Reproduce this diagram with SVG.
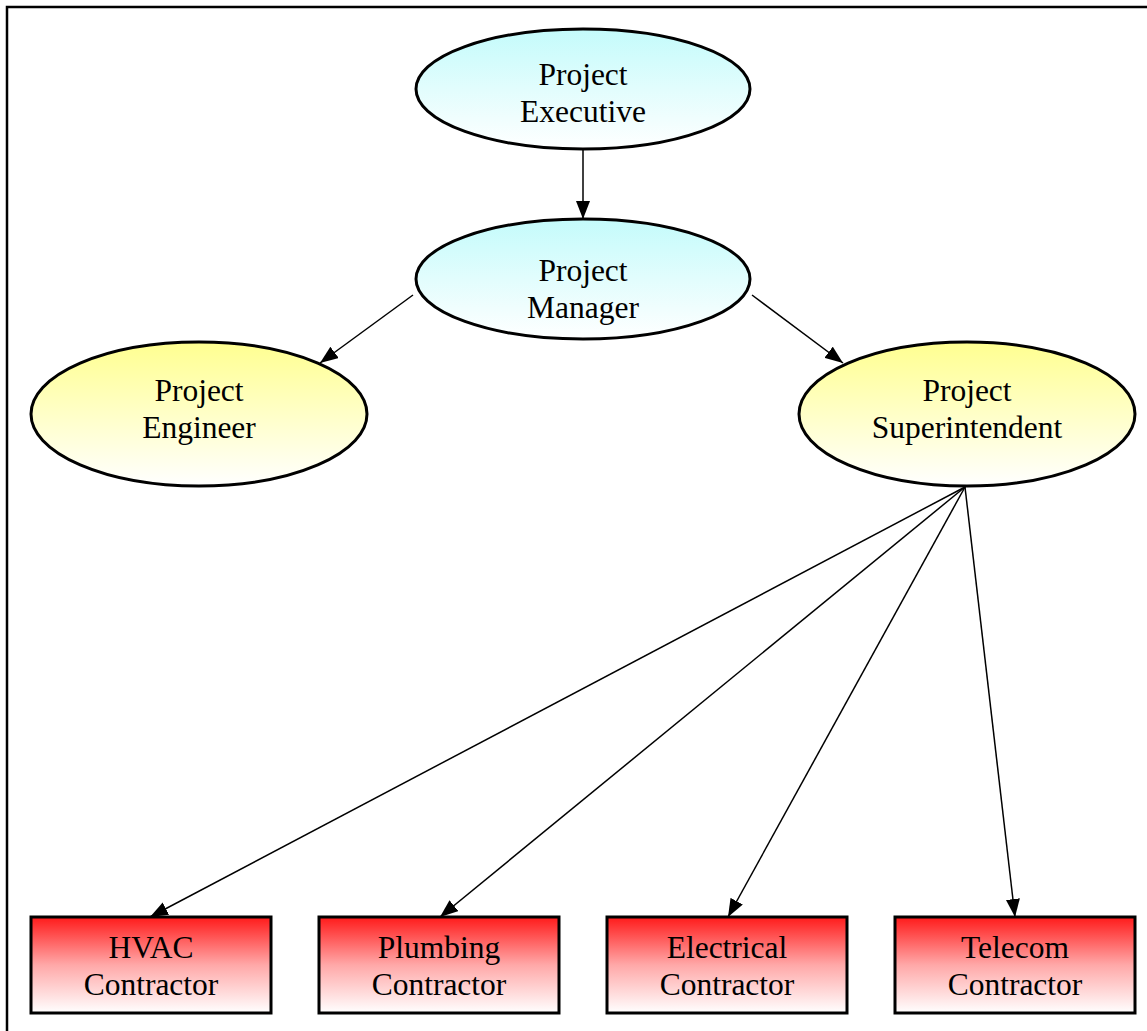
<svg xmlns="http://www.w3.org/2000/svg" width="1147" height="1031" viewBox="0 0 1147 1031">
<defs>
<linearGradient id="gC" x1="0" y1="0" x2="0" y2="1"><stop offset="0" stop-color="#c4fbfb"/><stop offset="1" stop-color="#ffffff"/></linearGradient>
<linearGradient id="gY" x1="0" y1="0" x2="0" y2="1"><stop offset="0" stop-color="#ffff90"/><stop offset="1" stop-color="#ffffff"/></linearGradient>
<linearGradient id="gR" x1="0" y1="0" x2="0" y2="1"><stop offset="0" stop-color="#ff1a1a"/><stop offset="0.5" stop-color="#ffa8a8"/><stop offset="1" stop-color="#ffffff"/></linearGradient>
<marker id="ah" viewBox="0 0 18 14" refX="18" refY="7" markerWidth="18" markerHeight="14" markerUnits="userSpaceOnUse" orient="auto"><path d="M0,0 L18,7 L0,14 Z" fill="#000"/></marker>
</defs>
<style>
.n{stroke:#000;stroke-width:3}
.t{font-family:"Liberation Serif","Times New Roman",serif;font-size:31.5px;fill:#000;text-anchor:middle}
.c line{stroke:#000;stroke-width:1.5;marker-end:url(#ah)}
</style>
<rect width="1147" height="1031" fill="#fff"/>
<path d="M7,1031 V7 H1147" fill="none" stroke="#000" stroke-width="2.5"/>
<g class="c">
<line x1="583" y1="150" x2="583" y2="219"/>
<line x1="413" y1="295" x2="320" y2="363"/>
<line x1="752" y1="295" x2="843" y2="363"/>
<line x1="965" y1="487" x2="150" y2="917"/>
<line x1="965" y1="487" x2="440" y2="917"/>
<line x1="965" y1="487" x2="728" y2="917"/>
<line x1="965" y1="487" x2="1015" y2="917"/>
</g>
<g id="exec"><ellipse class="n" cx="583" cy="89" rx="167" ry="60" fill="url(#gC)"/><text class="t" x="583" y="85">Project</text><text class="t" x="583" y="122">Executive</text></g>
<g id="manager"><ellipse class="n" cx="583" cy="279" rx="167" ry="60" fill="url(#gC)"/><text class="t" x="583" y="281">Project</text><text class="t" x="583" y="318">Manager</text></g>
<g id="engineer"><ellipse class="n" cx="199" cy="414" rx="168" ry="72" fill="url(#gY)"/><text class="t" x="199" y="401">Project</text><text class="t" x="199" y="438">Engineer</text></g>
<g id="super"><ellipse class="n" cx="967" cy="414" rx="168" ry="72" fill="url(#gY)"/><text class="t" x="967" y="401">Project</text><text class="t" x="967" y="438">Superintendent</text></g>
<g id="hvac"><rect class="n" x="31" y="917" width="240" height="96" fill="url(#gR)"/><text class="t" x="151" y="958">HVAC</text><text class="t" x="151" y="995">Contractor</text></g>
<g id="plumbing"><rect class="n" x="319" y="917" width="240" height="96" fill="url(#gR)"/><text class="t" x="439" y="958">Plumbing</text><text class="t" x="439" y="995">Contractor</text></g>
<g id="electrical"><rect class="n" x="607" y="917" width="240" height="96" fill="url(#gR)"/><text class="t" x="727" y="958">Electrical</text><text class="t" x="727" y="995">Contractor</text></g>
<g id="telecom"><rect class="n" x="895" y="917" width="240" height="96" fill="url(#gR)"/><text class="t" x="1015" y="958">Telecom</text><text class="t" x="1015" y="995">Contractor</text></g>
</svg>
